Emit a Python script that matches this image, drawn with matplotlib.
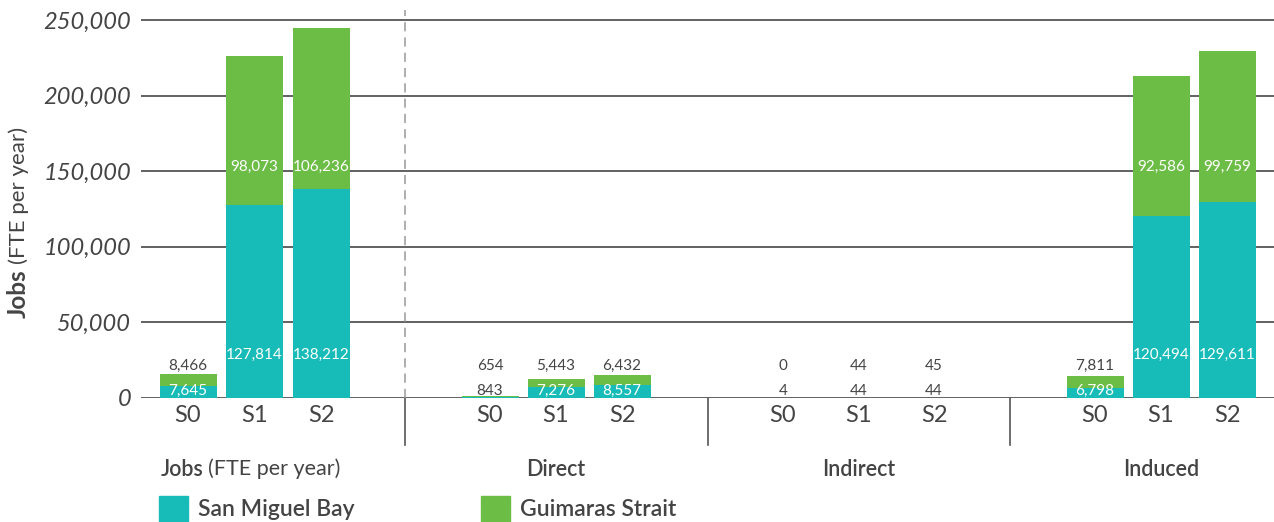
import numpy as np
import matplotlib.pyplot as plt
from matplotlib.patches import Rectangle

plt.rcParams['font.family'] = ['Lato', 'DejaVu Sans']

# data
groups = ['Jobs', 'Direct', 'Indirect', 'Induced']
scenarios = ['S0', 'S1', 'S2']
san_miguel = [[7645, 127814, 138212],
              [843, 7276, 8557],
              [4, 44, 44],
              [6798, 120494, 129611]]
guimaras = [[8466, 98073, 106236],
            [654, 5443, 6432],
            [0, 44, 45],
            [7811, 92586, 99759]]
yticks = [0, 50000, 100000, 150000, 200000, 250000]
ytick_labels = ['0', '50,000', '100,000', '150,000', '200,000', '250,000']

# layout (x in pixel-like units across the axes)
group_left = [141, 405, 708, 1010]
first_off = [47, 85, 75, 85]
step = [66.5, 66, 75.5, 66]
bar_w = 57

teal = '#17bbb7'
green = '#6cbd45'
dark = '#444444'
grid_c = '#555555'

W, H = 1274, 522
fig = plt.figure(figsize=(W / 100, H / 100), dpi=100)
px_per_val = 378 / 250000
top_val = 388 / px_per_val
ax = fig.add_axes([141 / W, (H - 398) / H, (W - 141) / W, 388 / H])
ax.set_xlim(141, W)
ax.set_ylim(0, top_val)
for s in ax.spines.values():
    s.set_visible(False)

for y in yticks:
    ax.axhline(y, color=grid_c, lw=1.3, zorder=1)

ax.set_yticks(yticks)
ax.set_yticklabels(ytick_labels, fontsize=17, style='italic', color=dark)
ax.tick_params(axis='y', length=0, pad=7)

below = -47 / px_per_val
lab_fs = 11
xs_all = []
for g in range(4):
    xs = [group_left[g] + first_off[g] + i * step[g] for i in range(3)]
    xs_all += xs
    sm = np.array(san_miguel[g])
    gs = np.array(guimaras[g])
    ax.bar(xs, sm, width=bar_w, color=teal, zorder=2)
    ax.bar(xs, gs, width=bar_w, bottom=sm, color=green, zorder=2)
    for x, a, b in zip(xs, sm, gs):
        if a + b > 100000:
            ax.text(x, 28400, f'{a:,}', ha='center', va='center', color='white', fontsize=lab_fs, zorder=3)
            ax.text(x, 152800, f'{b:,}', ha='center', va='center', color='white', fontsize=lab_fs, zorder=3)
        else:
            c = 'white' if a > 3000 else dark
            ax.text(x, 4800, f'{a:,}', ha='center', va='center', color=c, fontsize=lab_fs, zorder=3)
            ax.text(x, 21200, f'{b:,}', ha='center', va='center', color=dark, fontsize=lab_fs, zorder=3)
    # group separators
    if g > 0:
        sep = group_left[g]
        ax.plot([sep, sep], [0, below], color=grid_c, lw=1.2, clip_on=False, zorder=1)
        if g == 1:
            ax.plot([sep, sep], [0, top_val], color='#999999', lw=1.1, ls=(0, (6, 4)), zorder=1)

ax.set_xticks(xs_all)
ax.set_xticklabels(scenarios * 4, fontsize=17, color=dark)
ax.tick_params(axis='x', length=0, pad=5)

# rotated y label: bold "Jobs" + plain "(FTE per year)"
fig.canvas.draw()
r = fig.canvas.get_renderer()
t1 = fig.text(18 / W, (H - 318) / H, 'Jobs', rotation=90, ha='center', va='bottom',
              fontsize=17.5, fontweight='bold', color=dark)
bb = t1.get_window_extent(r)
fig.text(19 / W, (bb.y1 + 5) / H, '(FTE per year)', rotation=90, ha='center', va='bottom',
         fontsize=16, color=dark)

# group labels under axis
yl = (H - 469) / H
t2 = fig.text(161 / W, yl, 'Jobs', ha='left', va='center', fontsize=15.5, fontweight='semibold', color=dark)
bb = t2.get_window_extent(r)
fig.text((bb.x1 + 4) / W, yl, '(FTE per year)', ha='left', va='center', fontsize=15.5,
         color=dark)
for g in range(1, 4):
    xc = group_left[g] + first_off[g] + step[g]
    fig.text(xc / W, yl, groups[g], ha='center', va='center', fontsize=15.5,
             fontweight='semibold', color=dark)

# legend
for x0, c, lab in [(159, teal, 'San Miguel Bay'), (481, green, 'Guimaras Strait')]:
    fig.add_artist(Rectangle((x0 / W, 0), 29 / W, 26 / H, transform=fig.transFigure,
                             color=c, clip_on=False))
    fig.text((x0 + 39) / W, (H - 509) / H, lab, ha='left', va='center', fontsize=16.5,
             fontweight='semibold', color=dark)

fig.savefig('out.png', dpi=100)
